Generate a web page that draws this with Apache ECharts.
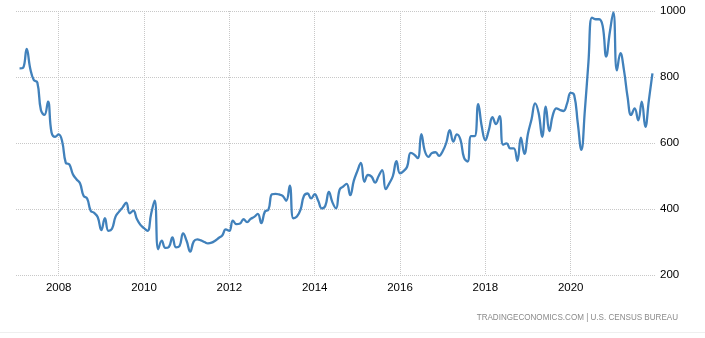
<!DOCTYPE html>
<html>
<head>
<meta charset="utf-8">
<script src="https://cdn.jsdelivr.net/npm/echarts@6/dist/echarts.min.js"></script>
<style>
  html, body { margin: 0; padding: 0; background: #fff; }
  #chart { width: 705px; height: 338px; }
</style>
</head>
<body>
<div id="chart"></div>
<script>
// US new home sales, thousands of units (SAAR), monthly.
// 2007 starts in February; every other year runs January to December.
const sales2007 = [826, 828, 885, 826, 791, 783, 700, 685, 725, 632, 619];
const sales2008 = [626, 604, 540, 535, 505, 490, 478, 440, 432, 395, 388, 375];
const sales2009 = [336, 372, 334, 340, 377, 392, 405, 419, 387, 395, 370, 352];
const sales2010 = [342, 334, 385, 425, 278, 304, 282, 285, 314, 284, 288, 326];
const sales2011 = [303, 271, 302, 308, 305, 300, 296, 298, 304, 312, 320, 338];
const sales2012 = [334, 365, 354, 356, 369, 360, 370, 376, 385, 357, 392, 398];
const sales2013 = [445, 446, 444, 440, 425, 471, 372, 377, 397, 440, 447, 432];
const sales2014 = [445, 425, 402, 410, 452, 420, 402, 458, 468, 476, 442, 485];
const sales2015 = [515, 540, 482, 503, 498, 480, 500, 518, 460, 478, 500, 545];
const sales2016 = [508, 515, 528, 570, 565, 554, 627, 575, 558, 570, 572, 561];
const sales2017 = [575, 600, 639, 604, 626, 610, 556, 544, 621, 621, 718, 650];
const sales2018 = [609, 640, 678, 657, 681, 595, 599, 584, 584, 546, 616, 567];
const sales2019 = [629, 672, 720, 690, 619, 710, 636, 685, 705, 700, 697, 720];
const sales2020 = [752, 745, 660, 579, 700, 845, 980, 975, 975, 955, 862, 935];
const sales2021 = [996, 820, 872, 820, 740, 685, 705, 669, 725, 649, 730, 811];

// Year labels shown under the vertical grid lines
const yearTicks = ['2008', '2010', '2012', '2014', '2016', '2018', '2020'];
// Value axis ticks
const valueTicks = [200, 400, 600, 800, 1000];

const sourceText = 'TRADINGECONOMICS.COM | U.S. CENSUS BUREAU';

// Monthly categories from Jan 2007 through Jan 2022 (edges carry no value)
const yearly = [
  ['2007', sales2007], ['2008', sales2008], ['2009', sales2009], ['2010', sales2010],
  ['2011', sales2011], ['2012', sales2012], ['2013', sales2013], ['2014', sales2014],
  ['2015', sales2015], ['2016', sales2016], ['2017', sales2017], ['2018', sales2018],
  ['2019', sales2019], ['2020', sales2020], ['2021', sales2021]
];
const months = [];
const values = [];
yearly.forEach(([year, arr]) => {
  const offset = 12 - arr.length;
  for (let i = 0; i < 12; i++) {
    months.push(year + '-' + String(i + 1).padStart(2, '0'));
    values.push(i < offset ? null : arr[i - offset]);
  }
});
months.push('2022-01');
values.push(null);

const isYearTick = (idx, val) => val.endsWith('-01') && yearTicks.includes(val.slice(0, 4));

const FONT = '"Liberation Sans", Arial, sans-serif';
const gridLineStyle = { color: '#c8c8c8', width: 1, type: [1, 1] };

const chart = echarts.init(document.getElementById('chart'), null, { renderer: 'canvas' });
chart.setOption({
  animation: false,
  backgroundColor: '#fff',
  grid: { left: 16, right: 49, top: 11, bottom: 63, containLabel: false },
  xAxis: {
    type: 'category',
    data: months,
    boundaryGap: false,
    axisLine: { show: false },
    axisTick: { show: false },
    axisLabel: {
      interval: isYearTick,
      formatter: v => v.slice(0, 4),
      color: '#000',
      fontFamily: FONT,
      fontSize: 11.5,
      margin: 7
    },
    splitLine: { show: true, interval: isYearTick, lineStyle: gridLineStyle }
  },
  yAxis: {
    type: 'value',
    position: 'right',
    min: valueTicks[0],
    max: valueTicks[valueTicks.length - 1],
    interval: valueTicks[1] - valueTicks[0],
    axisLine: { show: false },
    axisTick: { show: false },
    axisLabel: {
      formatter: v => String(v),
      color: '#000',
      fontFamily: FONT,
      fontSize: 11.5,
      margin: 4
    },
    splitLine: { show: true, lineStyle: gridLineStyle }
  },
  series: [{
    type: 'line',
    data: values,
    smooth: 0.45,
    symbol: 'none',
    connectNulls: false,
    lineStyle: { color: '#4181bb', width: 2.3 }
  }],
  graphic: [
    {
      type: 'text',
      x: 678,
      y: 317,
      originX: 0,
      originY: 0,
      scaleX: 0.85,
      style: {
        text: sourceText,
        x: 0,
        y: 0,
        align: 'right',
        verticalAlign: 'middle',
        fill: '#8a8a8a',
        font: '9.5px ' + FONT
      }
    },
    {
      type: 'rect',
      left: 0,
      top: 332,
      shape: { width: 705, height: 1 },
      style: { fill: '#efefef' }
    }
  ]
});
</script>
</body>
</html>
